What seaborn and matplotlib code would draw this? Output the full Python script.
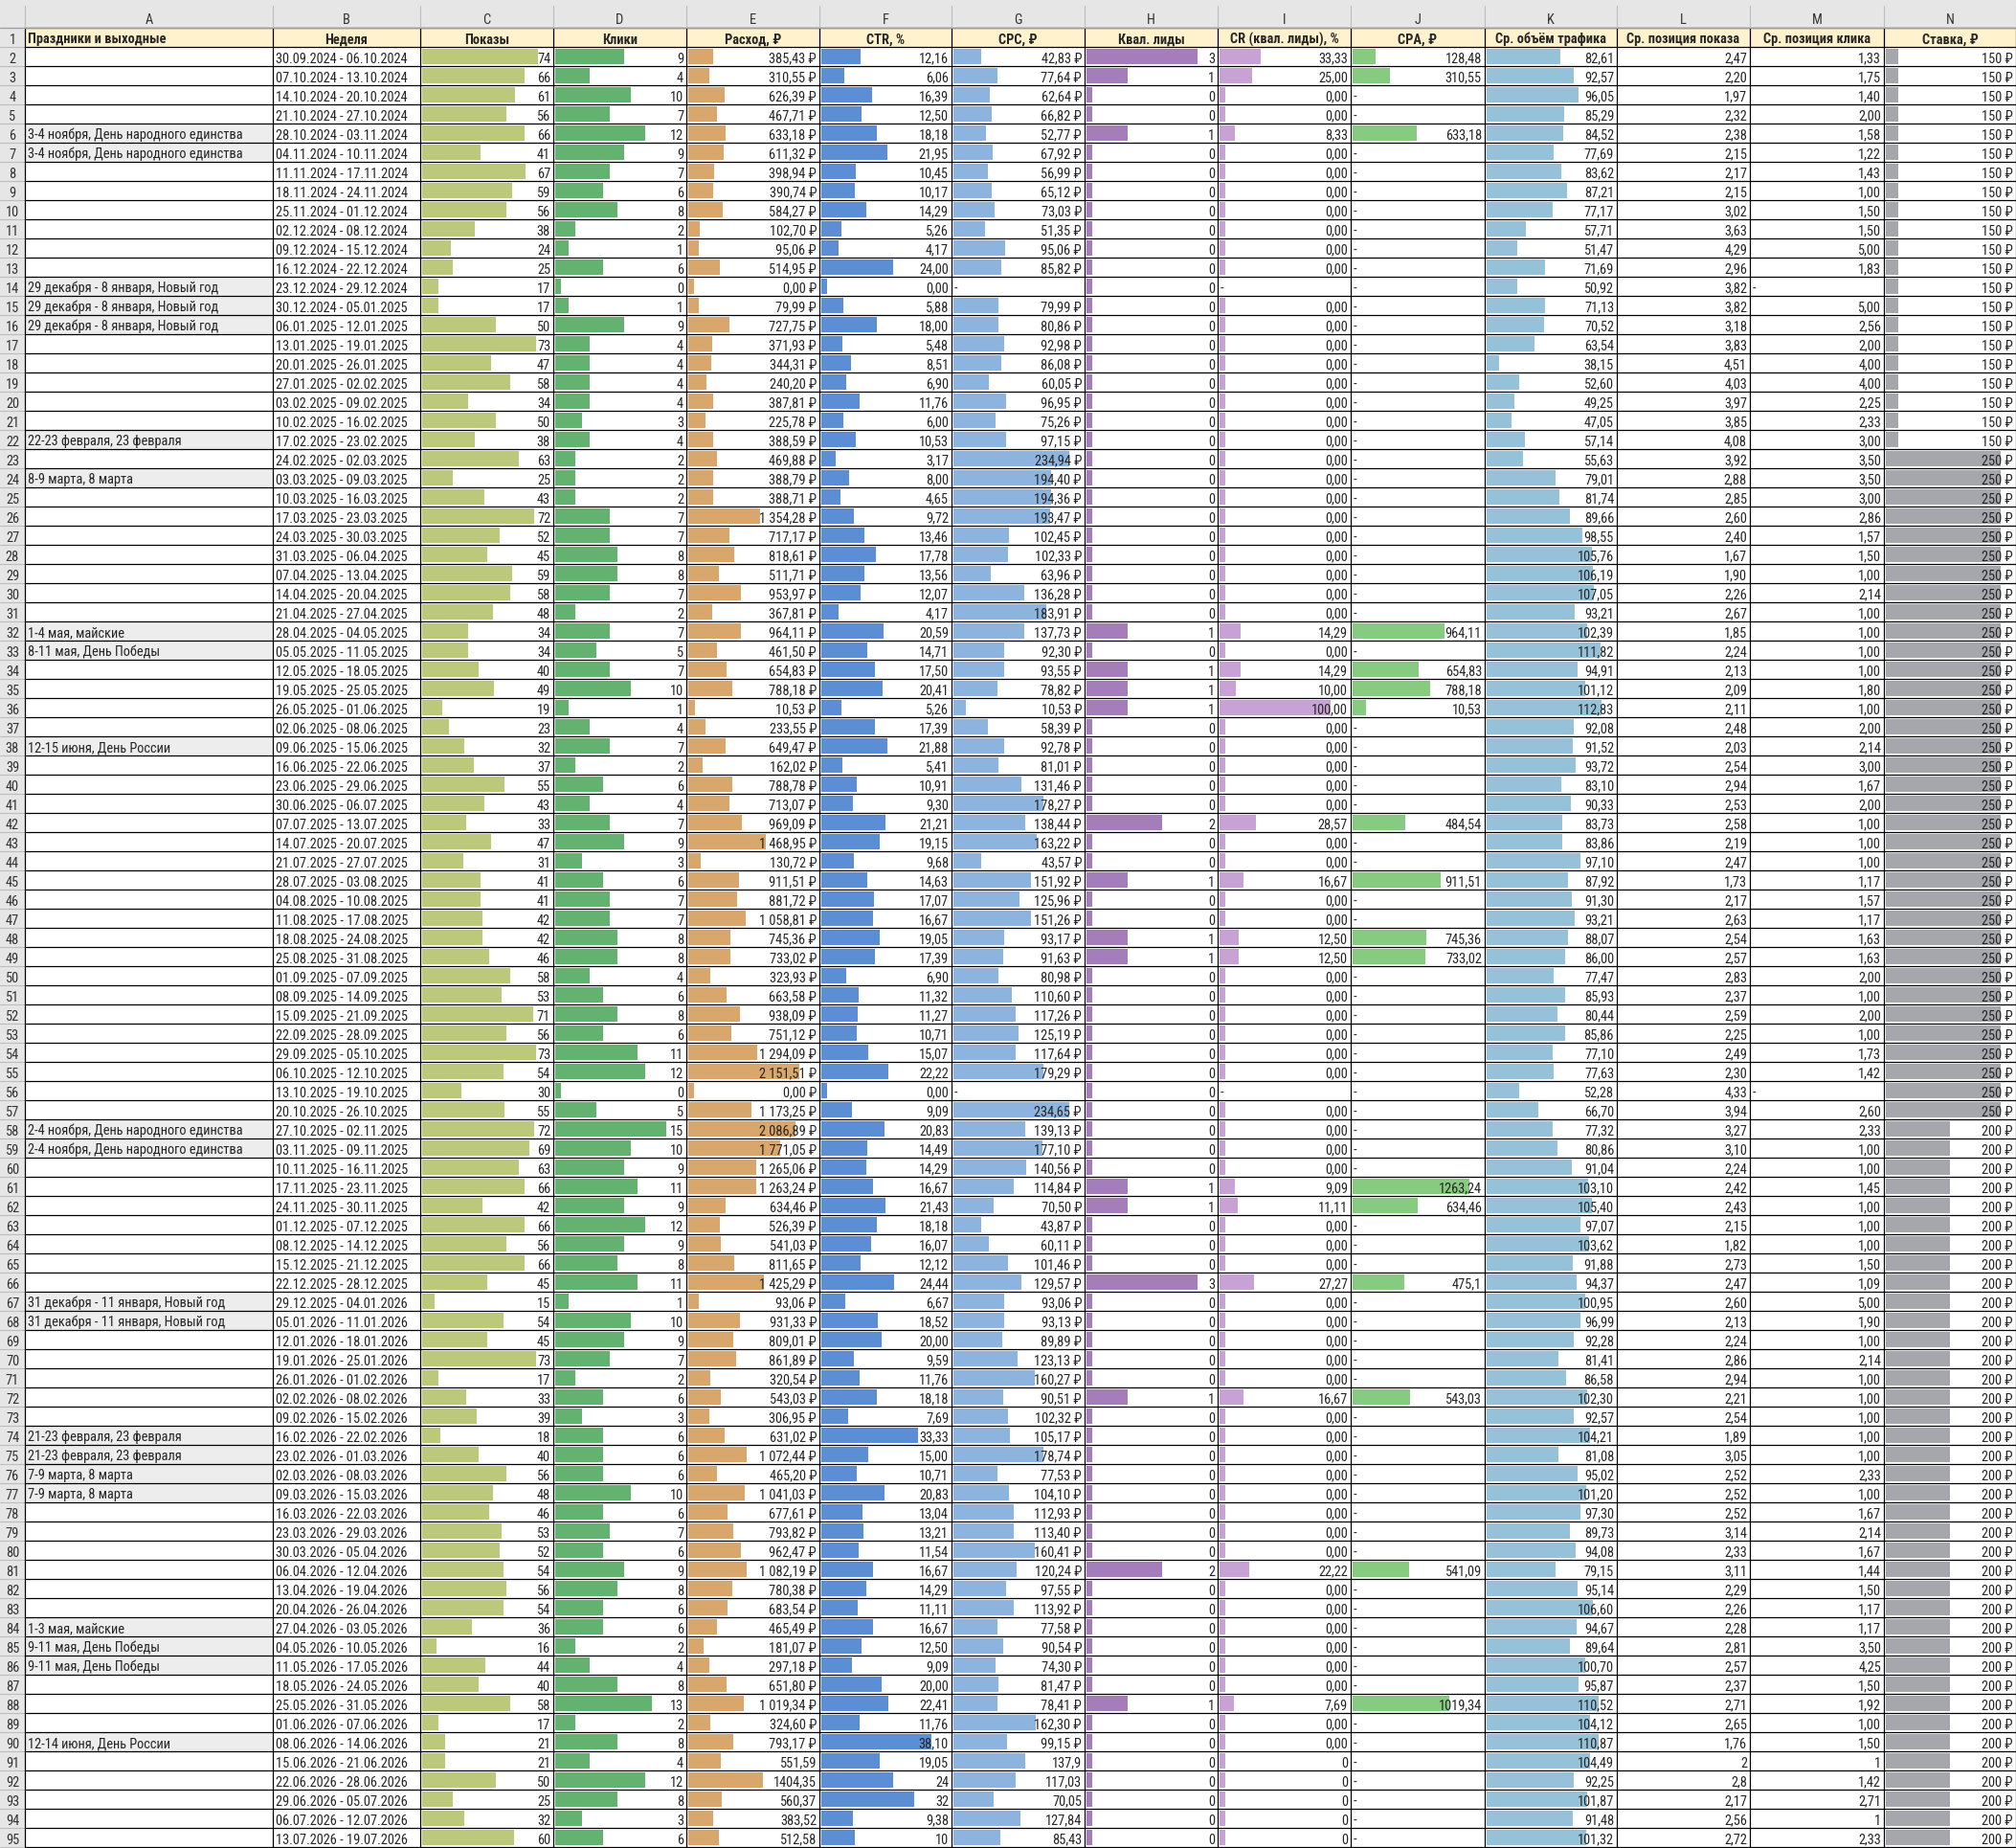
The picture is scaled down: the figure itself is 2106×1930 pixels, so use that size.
import numpy as np
import pandas as pd
import seaborn as sns
import matplotlib.pyplot as plt
from matplotlib.patches import Rectangle
from matplotlib.font_manager import fontManager

sns.set_style("white")

# ---------------- data: sheet rows 2..95 ----------------
headers = ["Праздники и выходные", "Неделя", "Показы", "Клики", "Расход, ₽", "CTR, %",
           "CPC, ₽", "Квал. лиды", "CR (квал. лиды), %", "CPA, ₽", "Ср. объём трафика",
           "Ср. позиция показа", "Ср. позиция клика", "Ставка, ₽"]
letters = list("ABCDEFGHIJKLMN")

weeks = [
    "30.09.2024 - 06.10.2024", "07.10.2024 - 13.10.2024", "14.10.2024 - 20.10.2024", "21.10.2024 - 27.10.2024",
    "28.10.2024 - 03.11.2024", "04.11.2024 - 10.11.2024", "11.11.2024 - 17.11.2024", "18.11.2024 - 24.11.2024",
    "25.11.2024 - 01.12.2024", "02.12.2024 - 08.12.2024", "09.12.2024 - 15.12.2024", "16.12.2024 - 22.12.2024",
    "23.12.2024 - 29.12.2024", "30.12.2024 - 05.01.2025", "06.01.2025 - 12.01.2025", "13.01.2025 - 19.01.2025",
    "20.01.2025 - 26.01.2025", "27.01.2025 - 02.02.2025", "03.02.2025 - 09.02.2025", "10.02.2025 - 16.02.2025",
    "17.02.2025 - 23.02.2025", "24.02.2025 - 02.03.2025", "03.03.2025 - 09.03.2025", "10.03.2025 - 16.03.2025",
    "17.03.2025 - 23.03.2025", "24.03.2025 - 30.03.2025", "31.03.2025 - 06.04.2025", "07.04.2025 - 13.04.2025",
    "14.04.2025 - 20.04.2025", "21.04.2025 - 27.04.2025", "28.04.2025 - 04.05.2025", "05.05.2025 - 11.05.2025",
    "12.05.2025 - 18.05.2025", "19.05.2025 - 25.05.2025", "26.05.2025 - 01.06.2025", "02.06.2025 - 08.06.2025",
    "09.06.2025 - 15.06.2025", "16.06.2025 - 22.06.2025", "23.06.2025 - 29.06.2025", "30.06.2025 - 06.07.2025",
    "07.07.2025 - 13.07.2025", "14.07.2025 - 20.07.2025", "21.07.2025 - 27.07.2025", "28.07.2025 - 03.08.2025",
    "04.08.2025 - 10.08.2025", "11.08.2025 - 17.08.2025", "18.08.2025 - 24.08.2025", "25.08.2025 - 31.08.2025",
    "01.09.2025 - 07.09.2025", "08.09.2025 - 14.09.2025", "15.09.2025 - 21.09.2025", "22.09.2025 - 28.09.2025",
    "29.09.2025 - 05.10.2025", "06.10.2025 - 12.10.2025", "13.10.2025 - 19.10.2025", "20.10.2025 - 26.10.2025",
    "27.10.2025 - 02.11.2025", "03.11.2025 - 09.11.2025", "10.11.2025 - 16.11.2025", "17.11.2025 - 23.11.2025",
    "24.11.2025 - 30.11.2025", "01.12.2025 - 07.12.2025", "08.12.2025 - 14.12.2025", "15.12.2025 - 21.12.2025",
    "22.12.2025 - 28.12.2025", "29.12.2025 - 04.01.2026", "05.01.2026 - 11.01.2026", "12.01.2026 - 18.01.2026",
    "19.01.2026 - 25.01.2026", "26.01.2026 - 01.02.2026", "02.02.2026 - 08.02.2026", "09.02.2026 - 15.02.2026",
    "16.02.2026 - 22.02.2026", "23.02.2026 - 01.03.2026", "02.03.2026 - 08.03.2026", "09.03.2026 - 15.03.2026",
    "16.03.2026 - 22.03.2026", "23.03.2026 - 29.03.2026", "30.03.2026 - 05.04.2026", "06.04.2026 - 12.04.2026",
    "13.04.2026 - 19.04.2026", "20.04.2026 - 26.04.2026", "27.04.2026 - 03.05.2026", "04.05.2026 - 10.05.2026",
    "11.05.2026 - 17.05.2026", "18.05.2026 - 24.05.2026", "25.05.2026 - 31.05.2026", "01.06.2026 - 07.06.2026",
    "08.06.2026 - 14.06.2026", "15.06.2026 - 21.06.2026", "22.06.2026 - 28.06.2026", "29.06.2026 - 05.07.2026",
    "06.07.2026 - 12.07.2026", "13.07.2026 - 19.07.2026",
]

holiday_rows = [6, 7, 14, 15, 16, 22, 24, 32, 33, 38, 58, 59, 67, 68, 74, 75, 76, 77, 84, 85, 86, 90]
holiday_names = [
    "3-4 ноября, День народного единства", "3-4 ноября, День народного единства",
    "29 декабря - 8 января, Новый год", "29 декабря - 8 января, Новый год",
    "29 декабря - 8 января, Новый год", "22-23 февраля, 23 февраля", "8-9 марта, 8 марта",
    "1-4 мая, майские", "8-11 мая, День Победы", "12-15 июня, День России",
    "2-4 ноября, День народного единства", "2-4 ноября, День народного единства",
    "31 декабря - 11 января, Новый год", "31 декабря - 11 января, Новый год",
    "21-23 февраля, 23 февраля", "21-23 февраля, 23 февраля", "7-9 марта, 8 марта",
    "7-9 марта, 8 марта", "1-3 мая, майские", "9-11 мая, День Победы", "9-11 мая, День Победы",
    "12-14 июня, День России",
]

shows = [74, 66, 61, 56, 66, 41, 67, 59, 56, 38,
         24, 25, 17, 17, 50, 73, 47, 58, 34, 50,
         38, 63, 25, 43, 72, 52, 45, 59, 58, 48,
         34, 34, 40, 49, 19, 23, 32, 37, 55, 43,
         33, 47, 31, 41, 41, 42, 42, 46, 58, 53,
         71, 56, 73, 54, 30, 55, 72, 69, 63, 66,
         42, 66, 56, 66, 45, 15, 54, 45, 73, 17,
         33, 39, 18, 40, 56, 48, 46, 53, 52, 54,
         56, 54, 36, 16, 44, 40, 58, 17, 21, 21,
         50, 25, 32, 60]

clicks = [9, 4, 10, 7, 12, 9, 7, 6, 8, 2,
          1, 6, 0, 1, 9, 4, 4, 4, 4, 3,
          4, 2, 2, 2, 7, 7, 8, 8, 7, 2,
          7, 5, 7, 10, 1, 4, 7, 2, 6, 4,
          7, 9, 3, 6, 7, 7, 8, 8, 4, 6,
          8, 6, 11, 12, 0, 5, 15, 10, 9, 11,
          9, 12, 9, 8, 11, 1, 10, 9, 7, 2,
          6, 3, 6, 6, 6, 10, 6, 7, 6, 9,
          8, 6, 6, 2, 4, 8, 13, 2, 8, 4,
          12, 8, 3, 6]

spend = [385.43, 310.55, 626.39, 467.71, 633.18, 611.32, 398.94, 390.74, 584.27, 102.70,
         95.06, 514.95, 0.00, 79.99, 727.75, 371.93, 344.31, 240.20, 387.81, 225.78,
         388.59, 469.88, 388.79, 388.71, 1354.28, 717.17, 818.61, 511.71, 953.97, 367.81,
         964.11, 461.50, 654.83, 788.18, 10.53, 233.55, 649.47, 162.02, 788.78, 713.07,
         969.09, 1468.95, 130.72, 911.51, 881.72, 1058.81, 745.36, 733.02, 323.93, 663.58,
         938.09, 751.12, 1294.09, 2151.51, 0.00, 1173.25, 2086.89, 1771.05, 1265.06, 1263.24,
         634.46, 526.39, 541.03, 811.65, 1425.29, 93.06, 931.33, 809.01, 861.89, 320.54,
         543.03, 306.95, 631.02, 1072.44, 465.20, 1041.03, 677.61, 793.82, 962.47, 1082.19,
         780.38, 683.54, 465.49, 181.07, 297.18, 651.80, 1019.34, 324.60, 793.17, 551.59,
         1404.35, 560.37, 383.52, 512.58]

ctr = [12.16, 6.06, 16.39, 12.50, 18.18, 21.95, 10.45, 10.17, 14.29, 5.26,
       4.17, 24.00, 0.00, 5.88, 18.00, 5.48, 8.51, 6.90, 11.76, 6.00,
       10.53, 3.17, 8.00, 4.65, 9.72, 13.46, 17.78, 13.56, 12.07, 4.17,
       20.59, 14.71, 17.50, 20.41, 5.26, 17.39, 21.88, 5.41, 10.91, 9.30,
       21.21, 19.15, 9.68, 14.63, 17.07, 16.67, 19.05, 17.39, 6.90, 11.32,
       11.27, 10.71, 15.07, 22.22, 0.00, 9.09, 20.83, 14.49, 14.29, 16.67,
       21.43, 18.18, 16.07, 12.12, 24.44, 6.67, 18.52, 20.00, 9.59, 11.76,
       18.18, 7.69, 33.33, 15.00, 10.71, 20.83, 13.04, 13.21, 11.54, 16.67,
       14.29, 11.11, 16.67, 12.50, 9.09, 20.00, 22.41, 11.76, 38.10, 19.05,
       24, 32, 9.38, 10]

cpc = [42.83, 77.64, 62.64, 66.82, 52.77, 67.92, 56.99, 65.12, 73.03, 51.35,
       95.06, 85.82, None, 79.99, 80.86, 92.98, 86.08, 60.05, 96.95, 75.26,
       97.15, 234.94, 194.40, 194.36, 193.47, 102.45, 102.33, 63.96, 136.28, 183.91,
       137.73, 92.30, 93.55, 78.82, 10.53, 58.39, 92.78, 81.01, 131.46, 178.27,
       138.44, 163.22, 43.57, 151.92, 125.96, 151.26, 93.17, 91.63, 80.98, 110.60,
       117.26, 125.19, 117.64, 179.29, None, 234.65, 139.13, 177.10, 140.56, 114.84,
       70.50, 43.87, 60.11, 101.46, 129.57, 93.06, 93.13, 89.89, 123.13, 160.27,
       90.51, 102.32, 105.17, 178.74, 77.53, 104.10, 112.93, 113.40, 160.41, 120.24,
       97.55, 113.92, 77.58, 90.54, 74.30, 81.47, 78.41, 162.30, 99.15, 137.9,
       117.03, 70.05, 127.84, 85.43]

leads = [3, 1, 0, 0, 1, 0, 0, 0, 0, 0,
         0, 0, 0, 0, 0, 0, 0, 0, 0, 0,
         0, 0, 0, 0, 0, 0, 0, 0, 0, 0,
         1, 0, 1, 1, 1, 0, 0, 0, 0, 0,
         2, 0, 0, 1, 0, 0, 1, 1, 0, 0,
         0, 0, 0, 0, 0, 0, 0, 0, 0, 1,
         1, 0, 0, 0, 3, 0, 0, 0, 0, 0,
         1, 0, 0, 0, 0, 0, 0, 0, 0, 2,
         0, 0, 0, 0, 0, 0, 1, 0, 0, 0,
         0, 0, 0, 0]

cr = [33.33, 25.00, 0, 0, 8.33, 0, 0, 0, 0, 0,
      0, 0, None, 0, 0, 0, 0, 0, 0, 0,
      0, 0, 0, 0, 0, 0, 0, 0, 0, 0,
      14.29, 0, 14.29, 10.00, 100.00, 0, 0, 0, 0, 0,
      28.57, 0, 0, 16.67, 0, 0, 12.50, 12.50, 0, 0,
      0, 0, 0, 0, None, 0, 0, 0, 0, 9.09,
      11.11, 0, 0, 0, 27.27, 0, 0, 0, 0, 0,
      16.67, 0, 0, 0, 0, 0, 0, 0, 0, 22.22,
      0, 0, 0, 0, 0, 0, 7.69, 0, 0, 0,
      0, 0, 0, 0]

cpa = [128.48, 310.55, None, None, 633.18, None, None, None, None, None,
       None, None, None, None, None, None, None, None, None, None,
       None, None, None, None, None, None, None, None, None, None,
       964.11, None, 654.83, 788.18, 10.53, None, None, None, None, None,
       484.54, None, None, 911.51, None, None, 745.36, 733.02, None, None,
       None, None, None, None, None, None, None, None, None, 1263.24,
       634.46, None, None, None, 475.1, None, None, None, None, None,
       543.03, None, None, None, None, None, None, None, None, 541.09,
       None, None, None, None, None, None, 1019.34, None, None, None,
       None, None, None, None]

traffic = [82.61, 92.57, 96.05, 85.29, 84.52, 77.69, 83.62, 87.21, 77.17, 57.71,
           51.47, 71.69, 50.92, 71.13, 70.52, 63.54, 38.15, 52.60, 49.25, 47.05,
           57.14, 55.63, 79.01, 81.74, 89.66, 98.55, 105.76, 106.19, 107.05, 93.21,
           102.39, 111.82, 94.91, 101.12, 112.83, 92.08, 91.52, 93.72, 83.10, 90.33,
           83.73, 83.86, 97.10, 87.92, 91.30, 93.21, 88.07, 86.00, 77.47, 85.93,
           80.44, 85.86, 77.10, 77.63, 52.28, 66.70, 77.32, 80.86, 91.04, 103.10,
           105.40, 97.07, 103.62, 91.88, 94.37, 100.95, 96.99, 92.28, 81.41, 86.58,
           102.30, 92.57, 104.21, 81.08, 95.02, 101.20, 97.30, 89.73, 94.08, 79.15,
           95.14, 106.60, 94.67, 89.64, 100.70, 95.87, 110.52, 104.12, 110.87, 104.49,
           92.25, 101.87, 91.48, 101.32]

pos_show = [2.47, 2.20, 1.97, 2.32, 2.38, 2.15, 2.17, 2.15, 3.02, 3.63,
            4.29, 2.96, 3.82, 3.82, 3.18, 3.83, 4.51, 4.03, 3.97, 3.85,
            4.08, 3.92, 2.88, 2.85, 2.60, 2.40, 1.67, 1.90, 2.26, 2.67,
            1.85, 2.24, 2.13, 2.09, 2.11, 2.48, 2.03, 2.54, 2.94, 2.53,
            2.58, 2.19, 2.47, 1.73, 2.17, 2.63, 2.54, 2.57, 2.83, 2.37,
            2.59, 2.25, 2.49, 2.30, 4.33, 3.94, 3.27, 3.10, 2.24, 2.42,
            2.43, 2.15, 1.82, 2.73, 2.47, 2.60, 2.13, 2.24, 2.86, 2.94,
            2.21, 2.54, 1.89, 3.05, 2.52, 2.52, 2.52, 3.14, 2.33, 3.11,
            2.29, 2.26, 2.28, 2.81, 2.57, 2.37, 2.71, 2.65, 1.76, 2,
            2.8, 2.17, 2.56, 2.72]

pos_click = [1.33, 1.75, 1.40, 2.00, 1.58, 1.22, 1.43, 1.00, 1.50, 1.50,
             5.00, 1.83, None, 5.00, 2.56, 2.00, 4.00, 4.00, 2.25, 2.33,
             3.00, 3.50, 3.50, 3.00, 2.86, 1.57, 1.50, 1.00, 2.14, 1.00,
             1.00, 1.00, 1.00, 1.80, 1.00, 2.00, 2.14, 3.00, 1.67, 2.00,
             1.00, 1.00, 1.00, 1.17, 1.57, 1.17, 1.63, 1.63, 2.00, 1.00,
             2.00, 1.00, 1.73, 1.42, None, 2.60, 2.33, 1.00, 1.00, 1.45,
             1.00, 1.00, 1.00, 1.50, 1.09, 5.00, 1.90, 1.00, 2.14, 1.00,
             1.00, 1.00, 1.00, 1.00, 2.33, 1.00, 1.67, 2.14, 1.67, 1.44,
             1.50, 1.17, 1.17, 3.50, 4.25, 1.50, 1.92, 1.00, 1.50, 1,
             1.42, 2.71, 1, 2.33]

bid = [150] * 21 + [250] * 35 + [200] * 38

RAW = 89  # rows 91-95 were pasted without number format

# ---------------- formatting ----------------
def gen(v):
    return f"{v:.2f}".rstrip("0").rstrip(".").replace(".", ",")

def f2(v):
    return f"{v:,.2f}".replace(",", " ").replace(".", ",")

def fmt_int(i, v):
    return str(int(v))

def fmt_money(i, v):
    return gen(v) if i >= RAW else f2(v) + " ₽"

def fmt_dec(i, v):
    return gen(v) if i >= RAW else f2(v)

def fmt_gen(i, v):
    return gen(v)

def fmt_rub(i, v):
    return f"{int(v)} ₽"

# column index (A=0) -> (values, formatter, bar colour)
columns = {
    2: (shows, fmt_int, "#BDC97A"),
    3: (clicks, fmt_int, "#63B26F"),
    4: (spend, fmt_money, "#D9A66B"),
    5: (ctr, fmt_dec, "#5B8ED5"),
    6: (cpc, fmt_money, "#8DB4DE"),
    7: (leads, fmt_int, "#A57DBA"),
    8: (cr, fmt_dec, "#C8A2D5"),
    9: (cpa, fmt_gen, "#87CB80"),
    10: (traffic, fmt_dec, "#95C1D9"),
    11: (pos_show, fmt_dec, None),
    12: (pos_click, fmt_dec, None),
    13: (bid, fmt_rub, "#A5A7AD"),
}

# ---------------- font: prefer a narrow face like Excel's ----------------
def pick_font():
    names = {f.name for f in fontManager.ttflist}
    for nm in ["Liberation Sans Narrow", "Arial Narrow", "Roboto Condensed",
               "Noto Sans Condensed", "Open Sans Condensed", "DejaVu Sans Condensed"]:
        if nm in names:
            return nm, "normal"
    for nm in ["Roboto", "Noto Sans", "DejaVu Sans", "Open Sans"]:
        for f in fontManager.ttflist:
            if f.name == nm and "condensed" in str(f.stretch):
                return nm, "condensed"
    return "Liberation Sans", "normal"

FONT, STRETCH = pick_font()
plt.rcParams["font.family"] = [FONT, "DejaVu Sans"]
plt.rcParams["font.stretch"] = STRETCH

# ---------------- geometry (pixels) ----------------
W, H = 2106, 1930
EDGES = [26, 285, 439, 578, 717, 856, 994, 1133, 1272, 1411, 1551, 1689, 1828, 1968, 2106]
ROW_H = 20
Y0 = 29          # top of sheet row 1
n = len(weeks)

fig = plt.figure(figsize=(W / 100, H / 100), dpi=100)
renderer = fig.canvas.get_renderer()

def text_w(s, size, weight="normal"):
    t = fig.text(0, 0, s, fontsize=size, fontweight=weight)
    w = t.get_window_extent(renderer=renderer).width
    t.remove()
    return w

# size the font so a week label spans the B column like in the sheet
FS = min(11.5, 10 * 138 / text_w(weeks[0], 10))

bg = fig.add_axes([0, 0, 1, 1], zorder=0)
fg = fig.add_axes([0, 0, 1, 1], zorder=5)
for a in (bg, fg):
    a.set_xlim(0, W)
    a.set_ylim(H, 0)
    a.axis("off")
fg.patch.set_alpha(0)

def row_top(r):  # r = sheet row number
    return Y0 + (r - 1) * ROW_H

BASE = 16.5

# fills
bg.add_patch(Rectangle((0, 0), W, Y0, color="#E6E6E6", lw=0))
bg.add_patch(Rectangle((0, Y0), EDGES[0], H - Y0, color="#E6E6E6", lw=0))
bg.add_patch(Rectangle((EDGES[0], Y0), W - EDGES[0], ROW_H, color="#FFF2CC", lw=0))
for r in holiday_rows:
    bg.add_patch(Rectangle((EDGES[0], row_top(r)), EDGES[1] - EDGES[0], ROW_H, color="#EDEDED", lw=0))

# data bars (Excel-like data bars, one axes per column)
bar_top = row_top(2)
bar_bot = row_top(2) + n * ROW_H
for c, (vals, _, color) in columns.items():
    if color is None:
        continue
    v = np.array([np.nan if x is None else x for x in vals], float)
    lo, hi = np.nanmin(v), np.nanmax(v)
    f0, f1 = (0.05, 0.835) if lo == 0 else (0.10, 0.875)
    df = pd.DataFrame({"week": weeks, "len": f0 + (f1 - f0) * (v - lo) / (hi - lo)}).dropna()
    left = EDGES[c] + 1.5
    cw = EDGES[c + 1] - EDGES[c]
    ax = fig.add_axes([left / W, 1 - bar_bot / H, cw / W, (bar_bot - bar_top) / H], zorder=2)
    sns.barplot(data=df, x="len", y="week", order=weeks, orient="h", color=color,
                saturation=1, width=0.78, errorbar=None, linewidth=0, ax=ax)
    ax.set_xlim(0, 1)
    ax.set_ylim(n - 0.5, -0.5)
    ax.axis("off")
    ax.patch.set_alpha(0)

# grid lines
for k in range(n + 2):
    y = Y0 + k * ROW_H
    fg.plot([EDGES[0], W], [y, y], color="black", lw=0.9)
    fg.plot([0, EDGES[0]], [y, y], color="#BDBDBD", lw=0.8)
fg.plot([0, W], [Y0, Y0], color="#9E9E9E", lw=0.9)
for x in EDGES:
    fg.plot([x, x], [Y0, H], color="black", lw=0.9)
    fg.plot([x, x], [6, Y0], color="#BDBDBD", lw=0.8)

# column letters and row numbers
for j, L in enumerate(letters):
    fg.text((EDGES[j] + EDGES[j + 1]) / 2, 25, L, ha="center", va="baseline", fontsize=FS, color="#333333")
for r in range(1, n + 2):
    fg.text(13, row_top(r) + BASE, str(r), ha="center", va="baseline", fontsize=FS, color="#333333")

# header row (shrink a label if it is wider than its cell)
for j, h in enumerate(headers):
    cw = EDGES[j + 1] - EDGES[j] - 6
    size = min(FS, FS * cw / text_w(h, FS, "bold"))
    if j == 0:
        fg.text(EDGES[0] + 3, row_top(1) + BASE, h, ha="left", va="baseline", fontsize=size, fontweight="bold")
    else:
        fg.text((EDGES[j] + EDGES[j + 1]) / 2, row_top(1) + BASE, h, ha="center", va="baseline",
                fontsize=size, fontweight="bold")

# cell texts
for r, name in zip(holiday_rows, holiday_names):
    fg.text(EDGES[0] + 3, row_top(r) + BASE, name, ha="left", va="baseline", fontsize=FS)
for i, wk in enumerate(weeks):
    y = row_top(i + 2) + BASE
    fg.text(EDGES[1] + 3, y, wk, ha="left", va="baseline", fontsize=FS)
    for c, (vals, fmt, _) in columns.items():
        v = vals[i]
        if v is None:
            fg.text(EDGES[c] + 3, y, "-", ha="left", va="baseline", fontsize=FS)
        else:
            fg.text(EDGES[c + 1] - 3, y, fmt(i, v), ha="right", va="baseline", fontsize=FS)

fig.savefig("out.png", dpi=100)
